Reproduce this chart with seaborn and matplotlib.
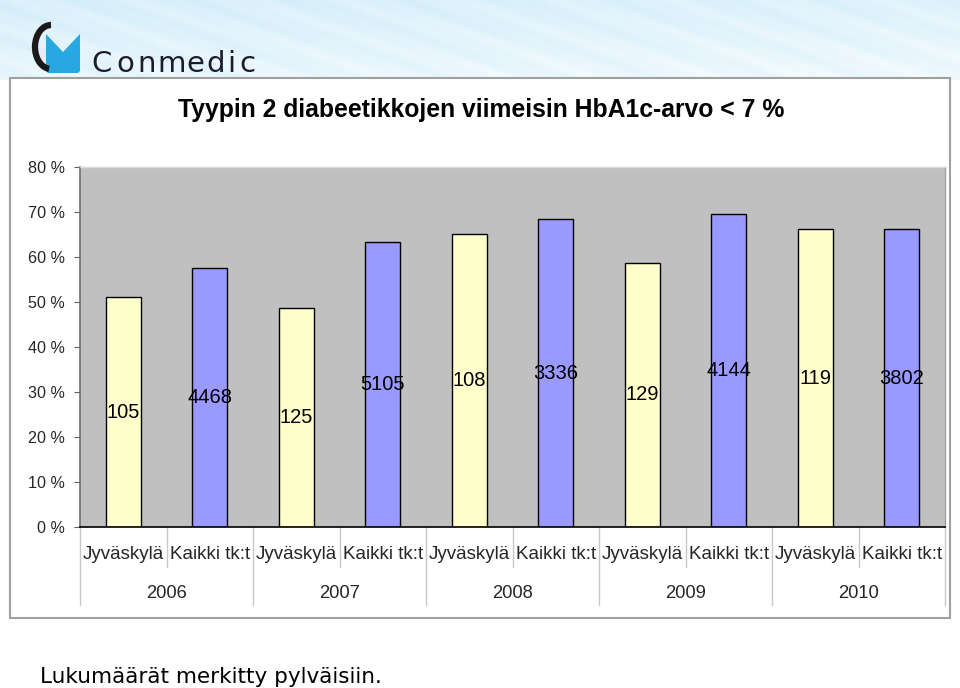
import numpy as np
import pandas as pd
import matplotlib
matplotlib.use("Agg")
import matplotlib.pyplot as plt
import matplotlib.patches as mpatches
from matplotlib.transforms import blended_transform_factory
import seaborn as sns

# ---- data ----
years = ["2006", "2007", "2008", "2009", "2010"]
groups = ["Jyväskylä", "Kaikki tk:t"]
values_jkl = [51.1, 48.7, 65.1, 58.7, 66.2]
values_all = [57.6, 63.3, 68.4, 69.6, 66.2]
counts_jkl = [105, 125, 108, 129, 119]
counts_all = [4468, 5105, 3336, 4144, 3802]
y_ticks = [0, 10, 20, 30, 40, 50, 60, 70, 80]

rows = []
for i, yr in enumerate(years):
    rows.append(dict(key=f"{yr} {groups[0]}", year=yr, group=groups[0], value=values_jkl[i], n=counts_jkl[i]))
    rows.append(dict(key=f"{yr} {groups[1]}", year=yr, group=groups[1], value=values_all[i], n=counts_all[i]))
df = pd.DataFrame(rows)

sns.set_theme(style="white")
plt.rcParams['font.family'] = ['Liberation Sans', 'DejaVu Sans']

W, H = 960, 688
fig = plt.figure(figsize=(W / 100, H / 100), dpi=100)

# ---- background / decoration axes in pixel coords ----
bg = fig.add_axes([0, 0, 1, 1], zorder=0)
bg.set_xlim(0, W)
bg.set_ylim(H, 0)
bg.axis("off")

# header gradient with faint diagonal streaks
hx = np.linspace(0, 1, 480)
hy = np.linspace(0, 1, 60)
X, Y = np.meshgrid(hx, hy)
base = 0.35 + 0.35 * Y + 0.15 * X
streak = 0.08 * np.sin((X * 9 - Y * 2.5) * 2 * np.pi) + 0.05 * np.sin((X * 23 - Y * 5) * 2 * np.pi)
t = np.clip(base + streak, 0, 1)
c0 = np.array([0.78, 0.91, 0.97])
c1 = np.array([0.97, 0.99, 1.0])
img = c0[None, None, :] * (1 - t[..., None]) + c1[None, None, :] * t[..., None]
bg.imshow(img, extent=[0, W, 80, 0], aspect="auto", zorder=0)

# logo: blue M-shape and black C arc
blue = "#28a8e0"
mshape = mpatches.Polygon([[46, 34], [63, 52], [80, 34], [80, 71], [78, 73], [48, 73], [46, 71]],
                          closed=True, facecolor=blue, edgecolor="none", zorder=2)
bg.add_patch(mshape)
arc = mpatches.Arc((51, 47), 32, 44, theta1=95, theta2=270, color="#1a1a1a", lw=4.5, zorder=3)
bg.add_patch(arc)
# wordmark (letter-spaced)
letter_x = [91, 116, 137, 157, 186, 206, 227, 239]
for lx, ch in zip(letter_x, "Conmedic"):
    bg.text(lx, 72, ch, fontsize=21, color="#1c1c2c", ha="left", va="baseline",
            family="DejaVu Sans", zorder=3)

# chart frame
bg.add_patch(mpatches.Rectangle((10, 78), 940, 540, facecolor="white", edgecolor="#a0a0a0",
                                lw=1.5, zorder=1))

# title
bg.text(481, 110, "Tyypin 2 diabeetikkojen viimeisin HbA1c-arvo < 7 %", fontsize=17.8,
        fontweight="bold", ha="center", va="center", color="black", zorder=3)

# footnote
bg.text(40, 677, "Lukumäärät merkitty pylväisiin.", fontsize=15.5, family="DejaVu Sans",
        ha="left", va="center", color="black", zorder=3)

# ---- main axes ----
left, right, top, bottom = 80, 945, 167, 527
ax = fig.add_axes([left / W, 1 - bottom / H, (right - left) / W, (bottom - top) / H], zorder=2)
ax.set_facecolor("#c0c0c0")

palette = {groups[0]: "#ffffcc", groups[1]: "#9999ff"}
sns.barplot(data=df, x="key", y="value", hue="group", palette=palette, dodge=False,
            width=0.41, edgecolor="black", linewidth=1.0, saturation=1, legend=False, ax=ax)

ax.set_ylim(0, 80)
ax.set_xlim(-0.5, len(df) - 0.5)
ax.set_yticks(y_ticks)
ax.set_yticklabels([f"{v} %" for v in y_ticks], fontsize=11.6)
ax.tick_params(axis="y", which="both", left=True, length=4, width=0.8, color="#606060", pad=7)
ax.set_xticks(range(len(df)))
ax.set_xticklabels(df["group"].tolist(), fontsize=13.5)
ax.tick_params(axis="x", length=0, pad=14)
ax.set_xlabel("")
ax.set_ylabel("")

for side in ["left", "bottom", "top", "right"]:
    ax.spines[side].set_visible(True)
ax.spines["left"].set_color("#707070")
ax.spines["left"].set_linewidth(1.2)
ax.spines["bottom"].set_color("black")
ax.spines["bottom"].set_linewidth(1.2)
ax.spines["top"].set_color("#d8d8d8")
ax.spines["top"].set_linewidth(1.0)
ax.spines["right"].set_color("#a0a0a0")
ax.spines["right"].set_linewidth(1.0)

# count labels at mid-height of each bar
for i, r in df.iterrows():
    ax.text(i, r["value"] / 2, f"{r['n']}", ha="center", va="center", fontsize=14.5, color="black")

# multi-level axis: separators and year labels
trans = blended_transform_factory(ax.transData, ax.transAxes)
h_px = bottom - top
short = -(567 - bottom) / h_px
long_ = -(605 - bottom) / h_px
for k in range(len(df) + 1):
    xb = k - 0.5
    y_end = long_ if k % 2 == 0 else short
    ax.plot([xb, xb], [0, y_end], transform=trans, color="#c8c8c8", lw=1.0, clip_on=False)
for i, yr in enumerate(years):
    ax.text(2 * i + 0.5, -(594 - bottom) / h_px, yr, transform=trans, ha="center", va="center",
            fontsize=13.2)

fig.savefig("out.png", dpi=100)
